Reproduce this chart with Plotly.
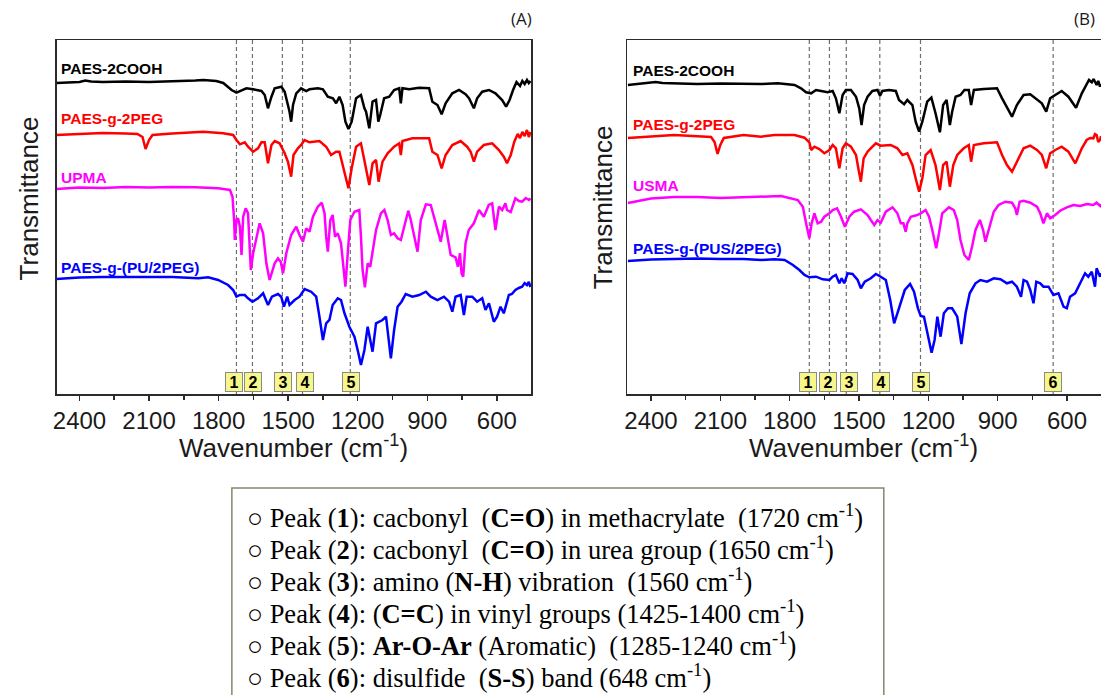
import plotly.graph_objects as go

# ---------------- data (wavenumber cm-1, transmittance a.u., stacked) ----------------
A_PAES_2COOH = [(2500,317),(2450,317.5),(2400,318),(2375,319.5),(2350,318.5),(2300,318),(2200,318.5),(2100,318),(2000,318.5),(1950,319),(1900,319.5),(1866,320),(1810,319),(1780,317),(1760,313),(1744,310),(1723,307.3),(1694,310),(1680,311.7),(1651,310.7),(1615,309),(1601,305),(1587,291.7),(1572,303.3),(1558,311.7),(1529,313.3),(1515,308.3),(1501,295),(1494,288.3),(1487,278.3),(1479,295),(1465,306.7),(1444,311.7),(1422,309),(1408,310.7),(1372,311.7),(1350,310.7),(1329,303.3),(1307,301.7),(1293,296.7),(1279,303.3),(1265,295),(1253,278.3),(1240,271),(1226,278.3),(1207,301.7),(1186,305),(1171,291.7),(1164,288.3),(1150,271.7),(1136,298.3),(1121,300),(1111,278.3),(1103,285),(1086,301.7),(1064,303.3),(1043,310),(1021,311.7),(1014,296.7),(1007,311.7),(978,310.7),(935,312.3),(892,311.7),(878,298.3),(856,295),(838,285.7),(821,296.7),(792,306.7),(763,310),(735,305.7),(720,301.7),(699,291.7),(685,301.7),(663,308.3),(634,310),(606,306.7),(577,300),(560,293.3),(545,300),(530,310),(515,318),(500,314),(490,319),(480,316),(470,320),(462,317),(455,319)]

A_PAES_g_2PEG = [(2500,265),(2450,265.5),(2400,266),(2300,267),(2200,266.5),(2150,266),(2128,263),(2115,251),(2100,260),(2085,265),(2000,266.5),(1900,268),(1866,268.3),(1780,266.7),(1737,265),(1723,260),(1708,255.7),(1687,257.7),(1673,253.3),(1651,248.3),(1630,251.7),(1615,257.7),(1601,257.7),(1587,236.7),(1572,255),(1558,259),(1537,256.7),(1515,246.7),(1501,238.3),(1487,223.3),(1477,245),(1458,251.7),(1444,255),(1429,260),(1408,257.7),(1365,259),(1336,253.3),(1315,245),(1293,248.3),(1279,248.3),(1262,231.7),(1240,211.7),(1226,231.7),(1207,253.3),(1186,256.7),(1171,238.3),(1150,215),(1136,236.7),(1121,240),(1110,218.3),(1093,238.3),(1071,246.7),(1043,253.3),(1021,256.7),(1014,245),(1007,259),(964,261.7),(892,261.7),(878,248.3),(856,245),(838,231.7),(821,245),(792,255),(756,259),(728,253.3),(713,248.3),(699,238.3),(685,248.3),(656,255),(620,256.7),(591,250),(570,243.3),(556,236.7),(540,245),(525,258),(510,266),(500,262),(490,268),(480,264),(470,270),(462,263),(455,268)]

A_UPMA = [(2500,211),(2450,212),(2400,212.5),(2300,212),(2200,213),(2100,212.5),(2000,213),(1900,212.7),(1802,211.7),(1751,210),(1740,203.3),(1733,180),(1730,160),(1723,180),(1716,181.7),(1708,173.3),(1701,145),(1694,183.3),(1683,191.7),(1673,186.7),(1661,130),(1651,146.7),(1637,163.3),(1623,176.7),(1608,166.7),(1594,136.7),(1580,120),(1558,136.7),(1544,141.7),(1532,138.3),(1522,126.7),(1508,146.7),(1487,165),(1465,173.3),(1451,165),(1436,158.3),(1422,171.7),(1408,168.3),(1393,183.3),(1372,193.3),(1355,197.3),(1343,186.7),(1336,163.3),(1329,148.3),(1318,180),(1308,185),(1298,163.3),(1286,166.7),(1272,156.7),(1262,136.7),(1253,113.3),(1243,146.7),(1232,180),(1214,188.3),(1193,190),(1186,163.3),(1179,130),(1169,112.7),(1157,136.7),(1146,133.3),(1136,146.7),(1121,170),(1100,186.7),(1085,190),(1071,180),(1057,165),(1043,166.7),(1028,161.7),(1014,160),(1000,173.3),(982,189.3),(971,180),(957,163.3),(942,148.3),(928,180),(906,195.7),(885,195),(868,180),(856,170),(842,158.3),(825,180),(813,163.3),(799,145),(778,142.7),(768,133.3),(759,146.7),(752,126.7),(745,123.3),(735,156.7),(721,170),(699,176.7),(677,190),(656,183.3),(635,195),(620,196.7),(606,170),(591,193.3),(577,190),(563,196.7),(556,190),(540,188),(520,201.7),(505,199),(491,198.3),(475,202),(462,200),(455,201.7)]

A_PAES_g_PU_2PEG = [(2500,121),(2450,122),(2400,122.5),(2300,123),(2200,123),(2100,123.5),(2000,123),(1887,121.7),(1845,122.7),(1802,120),(1759,115),(1737,110),(1723,103.3),(1708,105),(1687,105),(1673,101.7),(1654,98.3),(1630,101.7),(1608,106.7),(1587,95),(1570,103.3),(1544,106),(1530,103.3),(1518,93.3),(1504,103.3),(1494,95),(1472,100),(1451,103.3),(1429,111),(1401,108.3),(1379,103.3),(1365,83.3),(1350,60),(1336,76.7),(1322,80),(1308,95),(1286,101.7),(1272,100),(1257,86.7),(1236,73.3),(1214,63.3),(1197,46.7),(1186,35),(1171,50),(1157,73.3),(1146,60),(1136,48.3),(1121,76.7),(1107,78.3),(1093,80),(1078,83.3),(1068,63.3),(1057,41.7),(1043,70),(1028,93.3),(1011,98.3),(993,106),(964,103.3),(935,105),(906,108.3),(885,103.3),(856,100),(828,103.3),(806,98.3),(792,88.3),(778,103.3),(756,105),(742,85),(730,103.3),(706,103.3),(685,98.3),(663,101.7),(649,90),(634,96.7),(613,78.3),(599,83.3),(584,93.3),(570,86.7),(559,95),(548,105),(535,106),(520,110),(505,112),(491,113.3),(480,117),(470,115),(462,118),(455,113)]

B_PAES_2COOH = [(2500,315),(2450,316),(2400,317),(2380,318),(2350,317),(2300,316.5),(2200,316),(2100,316.5),(2000,316),(1923,316),(1851,316.7),(1779,315),(1751,311.7),(1729,307.7),(1707,306.7),(1686,310),(1664,309),(1636,307.7),(1614,309),(1600,301.7),(1585,286.7),(1571,305),(1557,310),(1535,310),(1513,303.3),(1499,291.7),(1489,275),(1478,295),(1463,303.3),(1442,309),(1420,310),(1409,304.3),(1399,309),(1370,310),(1341,309),(1327,300),(1305,295.7),(1291,300),(1269,295),(1255,278.3),(1240,268.3),(1226,278.3),(1205,298.3),(1187,302.3),(1169,286.7),(1150,267.7),(1136,295),(1121,300),(1107,275),(1097,288.3),(1082,303.3),(1061,305),(1044,310),(1025,310),(1015,295),(1003,310),(960,311),(903,311.7),(881,301.7),(860,293.3),(838,283.3),(817,295),(788,305),(759,305.7),(730,300),(709,296.7),(690,288.3),(673,301.7),(651,305),(623,309),(594,303.3),(561,292.3),(536,306.7),(515,315.7),(505,320),(493,317.7),(485,321),(472,315),(465,319),(457,313.3),(453,316)]

B_PAES_g_2PEG = [(2500,262),(2450,263),(2400,263.5),(2300,265),(2200,264),(2140,263),(2125,258),(2112,246),(2100,255),(2085,262),(2000,265),(1923,263.3),(1866,265),(1779,265),(1736,262.3),(1715,257.7),(1707,250),(1693,253.3),(1672,251),(1650,246.7),(1628,250),(1614,255),(1600,251.7),(1585,231.7),(1571,251.7),(1557,256.7),(1535,253.3),(1513,245),(1503,231.7),(1492,218.3),(1480,241.7),(1463,248.3),(1442,253.3),(1427,256.7),(1406,254.3),(1363,255),(1334,251.7),(1312,245),(1291,246.7),(1269,235),(1255,221.7),(1240,208.3),(1226,221.7),(1212,245),(1190,250),(1169,235),(1150,210),(1136,235),(1121,238.3),(1107,213.3),(1092,235),(1075,245),(1047,251.7),(1025,255),(1015,238.3),(1003,255),(960,256.7),(903,257.7),(881,245),(860,235),(838,228.3),(817,238.3),(788,251.7),(759,254.3),(730,250),(709,245),(690,231.7),(673,246.7),(651,250),(623,253.3),(594,248.3),(564,236.7),(536,251.7),(515,260),(500,262),(486,261.7),(479,266),(472,265),(465,258),(457,260),(453,264)]

B_USMA = [(2500,197),(2450,199),(2400,201.5),(2300,203),(2200,203),(2100,202),(2000,203),(1923,203.3),(1837,204),(1765,200),(1743,193.3),(1729,176.7),(1715,161.7),(1705,176.7),(1693,186.7),(1679,176.7),(1664,178.3),(1650,183.3),(1628,186.7),(1614,190),(1595,191.7),(1578,183.3),(1561,173.3),(1542,183.3),(1521,188.3),(1492,190.7),(1463,185),(1449,180),(1434,175),(1420,180),(1406,177.3),(1384,188.3),(1355,192.7),(1334,186.7),(1319,176.7),(1308,176.7),(1298,168.3),(1291,176.7),(1276,183.3),(1248,185),(1233,186.7),(1212,190),(1197,183.3),(1183,170),(1166,151.7),(1154,166.7),(1140,186.7),(1111,192.7),(1090,190),(1075,180),(1061,160),(1044,145),(1025,140),(1011,153.3),(996,170),(977,180),(963,170),(953,158.3),(939,170),(917,188.3),(896,195),(867,198.3),(838,197.3),(824,191.7),(817,185),(805,198.3),(788,199.3),(759,197.3),(730,193.3),(716,186.7),(702,176.7),(687,186.7),(673,181.7),(651,185),(630,189.3),(601,192.7),(572,195),(543,194),(515,196),(486,195),(472,197.3),(457,194),(453,196)]

B_PAES_g_PUS_2PEG = [(2500,139),(2450,140),(2400,140.5),(2300,141),(2200,141.5),(2100,141),(2000,141),(1923,140),(1866,140.7),(1822,140),(1786,135),(1758,130),(1736,125),(1715,122.7),(1686,123.3),(1657,120.7),(1628,120),(1614,123.3),(1600,125),(1585,116.7),(1575,121.7),(1564,116.7),(1549,126.7),(1528,126),(1506,120),(1492,111.7),(1475,118.3),(1449,121.7),(1427,126),(1406,123.3),(1384,120),(1365,100),(1348,76.7),(1334,86.7),(1319,96.7),(1302,110),(1279,116),(1262,108.3),(1245,91.7),(1233,84),(1219,83.3),(1204,66.7),(1186,47.3),(1173,60),(1161,83.3),(1147,63.3),(1133,86.7),(1115,91.7),(1097,91.7),(1075,83.3),(1057,56),(1039,86.7),(1021,106.7),(996,116.7),(975,120),(946,118.3),(917,121.7),(888,120.7),(860,116.7),(838,118.3),(817,113.3),(799,103.3),(788,120),(773,118.3),(759,110),(745,96.7),(733,118.3),(716,116.7),(702,113.3),(680,113.3),(659,105),(637,106.7),(615,93.3),(601,91.7),(587,103.3),(565,106.7),(543,116.7),(522,126.7),(508,123.3),(493,128.3),(479,113.3),(472,131.7),(457,123.3),(453,127)]

A_series_names = ["PAES-2COOH", "PAES-g-2PEG", "UPMA", "PAES-g-(PU/2PEG)"]
B_series_names = ["PAES-2COOH", "PAES-g-2PEG", "USMA", "PAES-g-(PUS/2PEG)"]
A_label_levels = [331, 281, 223, 133]
B_label_levels = [329, 275.7, 215, 151.7]
series_colors = ["#000000", "#ff0000", "#ff00ff", "#0000ff"]

A_peak_lines = [1723, 1654, 1525, 1438, 1232]
B_peak_lines = [1715, 1628, 1555, 1410, 1234, 660]
A_peak_boxes = [1734, 1651, 1521, 1426, 1228]
B_peak_boxes = [1719, 1633, 1544, 1403, 1230, 659]
A_peak_ids = ["1", "2", "3", "4", "5"]
B_peak_ids = ["1", "2", "3", "4", "5", "6"]

x_major_ticks = [2400, 2100, 1800, 1500, 1200, 900, 600]
x_minor_ticks = [2250, 1950, 1650, 1350, 1050, 750]

legend_lines = [
    "○ Peak (<b>1</b>): cacbonyl  (<b>C=O</b>) in methacrylate  (1720 cm<sup>-1</sup>)",
    "○ Peak (<b>2</b>): cacbonyl  (<b>C=O</b>) in urea group (1650 cm<sup>-1</sup>)",
    "○ Peak (<b>3</b>): amino (<b>N-H</b>) vibration  (1560 cm<sup>-1</sup>)",
    "○ Peak (<b>4</b>): (<b>C=C</b>) in vinyl groups (1425-1400 cm<sup>-1</sup>)",
    "○ Peak (<b>5</b>): <b>Ar-O-Ar</b> (Aromatic)  (1285-1240 cm<sup>-1</sup>)",
    "○ Peak (<b>6</b>): disulfide  (<b>S-S</b>) band (648 cm<sup>-1</sup>)",
]

# ---------------- figure ----------------
W, H = 1101, 695
SANS = "Liberation Sans, Arial, sans-serif"
SERIF = "Liberation Serif, Times New Roman, serif"

fig = go.Figure()

panels = [
    ("x", "y", [A_PAES_2COOH, A_PAES_g_2PEG, A_UPMA, A_PAES_g_PU_2PEG], A_series_names, A_label_levels,
     A_peak_lines, A_peak_boxes, A_peak_ids),
    ("x2", "y2", [B_PAES_2COOH, B_PAES_g_2PEG, B_USMA, B_PAES_g_PUS_2PEG], B_series_names, B_label_levels,
     B_peak_lines, B_peak_boxes, B_peak_ids),
]

annotations = []
shapes = []
for xa, ya, spectra, names, levels, plines, pboxes, pids in panels:
    for spec, name, col in zip(spectra, names, series_colors):
        fig.add_trace(go.Scatter(
            x=[p[0] for p in spec], y=[p[1] for p in spec], mode="lines", name=name,
            line=dict(color=col, width=2.5), xaxis=xa, yaxis=ya, showlegend=False,
            hoverinfo="skip"))
    for name, lvl, col in zip(names, levels, series_colors):
        annotations.append(dict(x=2488, y=lvl, xref=xa, yref=ya, text="<b>%s</b>" % name,
                                showarrow=False, xanchor="left", yanchor="middle",
                                font=dict(family=SANS, size=15.5, color=col)))
    for w in plines:
        shapes.append(dict(type="line", xref=xa, yref=ya + " domain", x0=w, x1=w, y0=0, y1=1,
                           line=dict(color="#6e6e6e", width=1.2, dash="4px,3px"), layer="below"))
    for w, pid in zip(pboxes, pids):
        annotations.append(dict(x=w, y=18, xref=xa, yref=ya, text="<b>%s</b>" % pid, showarrow=False,
                                font=dict(family=SANS, size=16, color="#000"),
                                bgcolor="#f6f68a", bordercolor="#8a8a8a", borderwidth=1, borderpad=1,
                                width=14, height=16, xanchor="center", yanchor="middle"))

axis_common = dict(showgrid=False, zeroline=False, showline=True, linecolor="#2b2b2b", linewidth=1.5)
xcommon = dict(axis_common, tickvals=x_major_ticks, ticks="outside", ticklen=5, tickwidth=1.5,
               tickcolor="#2b2b2b", tickfont=dict(family=SANS, size=24, color="#1a1a1a"),
               minor=dict(tickvals=x_minor_ticks, ticks="outside", ticklen=4, tickwidth=1.5,
                          tickcolor="#2b2b2b"))
ydom = [1 - 394 / H, 1 - 40 / H]

fig.update_layout(
    width=W, height=H, margin=dict(l=0, r=0, t=0, b=0),
    paper_bgcolor="white", plot_bgcolor="white", showlegend=False,
    xaxis=dict(xcommon, domain=[52.7 / W, 529.3 / W], range=[2499, 451], mirror=True, anchor="y"),
    yaxis=dict(axis_common, domain=ydom, range=[6, 360], showticklabels=False, ticks="", mirror=True,
               anchor="x"),
    xaxis2=dict(xcommon, domain=[625.7 / W, 1.0], range=[2502, 453], mirror=True, anchor="y2"),
    yaxis2=dict(axis_common, domain=ydom, range=[6, 360], showticklabels=False, ticks="", mirror=False,
                anchor="x2"),
)

# axis titles and panel tags
for xc in [291, 863]:
    annotations.append(dict(x=xc / W, y=1 - 446.7 / H, xref="paper", yref="paper",
                            text="Wavenumber (cm<sup>-1</sup>)", showarrow=False,
                            xanchor="center", yanchor="middle",
                            font=dict(family=SANS, size=26, color="#1a1a1a")))
for xc, yc in [(25, 198.5), (602, 207.5)]:
    annotations.append(dict(x=xc / W, y=1 - yc / H, xref="paper", yref="paper", text="Transmittance",
                            textangle=-90, showarrow=False, xanchor="center", yanchor="middle",
                            font=dict(family=SANS, size=26, color="#1a1a1a")))
for tag, xc in [("(A)", 519), ("(B)", 1084)]:
    annotations.append(dict(x=xc / W, y=1 - 18 / H, xref="paper", yref="paper", text=tag,
                            showarrow=False, xanchor="center", yanchor="middle",
                            font=dict(family="Open Sans, sans-serif", size=17, color="#1a1a1a")))

# peak assignment box
shapes.append(dict(type="rect", xref="paper", yref="paper", x0=228.7 / W, x1=883 / W,
                   y0=-0.01, y1=1 - 488 / H, line=dict(color="#7f8a6e", width=1.5),
                   fillcolor="rgba(0,0,0,0)"))
for i, line in enumerate(legend_lines):
    yc = 516 + 32 * i
    annotations.append(dict(x=242 / W, y=1 - yc / H, xref="paper", yref="paper", text=line,
                            showarrow=False, xanchor="left", yanchor="middle",
                            font=dict(family=SERIF, size=26.5, color="#000")))

fig.update_layout(annotations=annotations, shapes=shapes)
fig.write_html("out.html", config={"displayModeBar": False, "staticPlot": True},
               post_script="document.body.style.margin='0';document.body.style.overflow='hidden';")
